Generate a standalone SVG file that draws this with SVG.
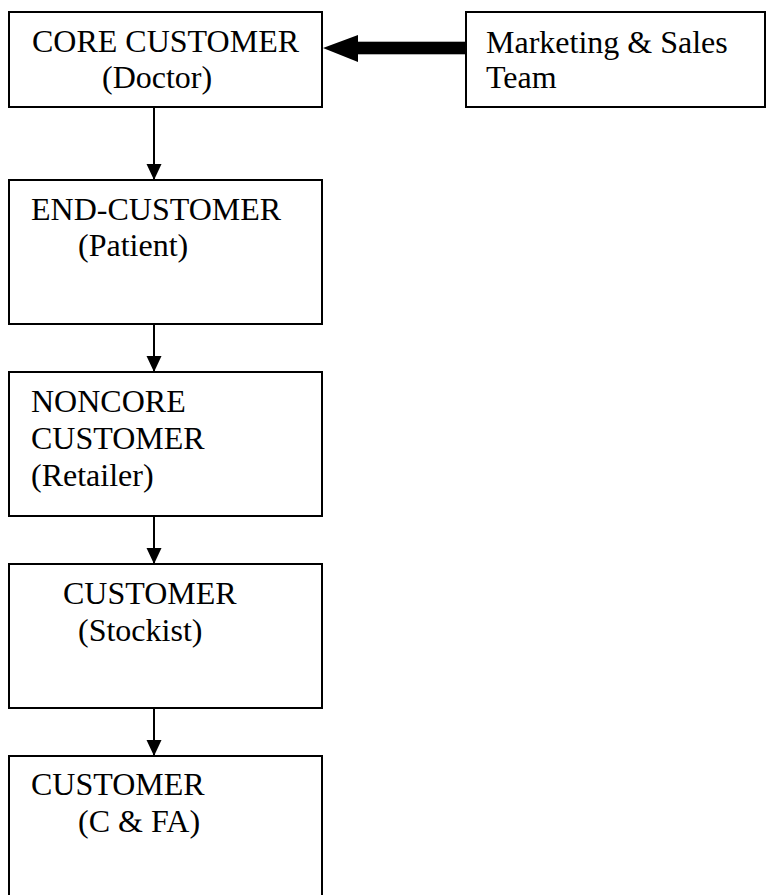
<svg xmlns="http://www.w3.org/2000/svg" width="766" height="895" viewBox="0 0 766 895">
<style>
.box{fill:#fff;stroke:#000;stroke-width:2}
.t{font-family:"Liberation Serif","Times New Roman",serif;font-size:32px;fill:#000}
.ln{stroke:#000;stroke-width:2;fill:none}
</style>
<defs>
<marker id="ah" markerUnits="userSpaceOnUse" markerWidth="16" markerHeight="16" refX="16" refY="8" orient="auto" viewBox="0 0 16 16">
<path d="M0,0.5 L16,8 L0,15.5 Z" fill="#000"/>
</marker>
</defs>
<rect width="766" height="895" fill="#fff"/>
<g id="core">
<rect class="box" x="9" y="12" width="313" height="95"/>
<text class="t" x="32" y="52">CORE CUSTOMER</text>
<text class="t" x="102" y="88">(Doctor)</text>
</g>
<g id="marketing">
<rect class="box" x="466" y="12" width="299" height="95"/>
<text class="t" x="486" y="53">Marketing &amp; Sales</text>
<text class="t" x="486" y="88">Team</text>
</g>
<g id="end">
<rect class="box" x="9" y="180" width="313" height="144"/>
<text class="t" x="31" y="220">END-CUSTOMER</text>
<text class="t" x="78" y="256">(Patient)</text>
</g>
<g id="noncore">
<rect class="box" x="9" y="372" width="313" height="144"/>
<text class="t" x="31" y="412">NONCORE</text>
<text class="t" x="31" y="449">CUSTOMER</text>
<text class="t" x="31" y="486">(Retailer)</text>
</g>
<g id="stockist">
<rect class="box" x="9" y="564" width="313" height="144"/>
<text class="t" x="63" y="604">CUSTOMER</text>
<text class="t" x="78" y="641">(Stockist)</text>
</g>
<g id="cfa">
<rect class="box" x="9" y="756" width="313" height="150"/>
<text class="t" x="31" y="795">CUSTOMER</text>
<text class="t" x="78" y="832">(C &amp; FA)</text>
</g>
<g id="connectors">
<line class="ln" x1="154" y1="107" x2="154" y2="180" marker-end="url(#ah)"/>
<line class="ln" x1="154" y1="324" x2="154" y2="372" marker-end="url(#ah)"/>
<line class="ln" x1="154" y1="516" x2="154" y2="564" marker-end="url(#ah)"/>
<line class="ln" x1="154" y1="708" x2="154" y2="756" marker-end="url(#ah)"/>
<rect x="357" y="41.7" width="109" height="12.6" fill="#000"/>
<path d="M323,48 L358,35 L358,62 Z" fill="#000"/>
</g>
</svg>
